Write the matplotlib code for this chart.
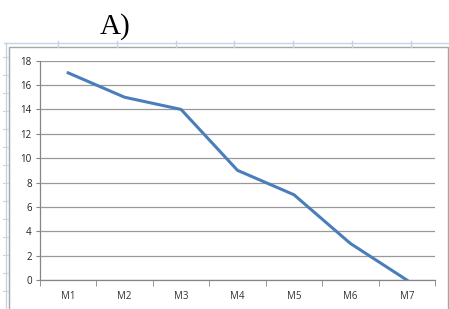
import matplotlib
matplotlib.use("Agg")
import matplotlib.pyplot as plt
from matplotlib.lines import Line2D
from matplotlib.patches import Rectangle

categories = ["M1", "M2", "M3", "M4", "M5", "M6", "M7"]
values = [17, 15, 14, 9, 7, 3, 0]
yticks = [0, 2, 4, 6, 8, 10, 12, 14, 16, 18]

W, H = 449, 309
fig = plt.figure(figsize=(W / 100, H / 100), dpi=100)
fig.patch.set_facecolor("white")

def fx(px):
    return px / W

def fy(py):
    return 1 - py / H

# Spreadsheet-like light guide lines
light = "#c5d3e8"
fig.add_artist(Line2D([fx(4), fx(449)], [fy(43), fy(43)], color=light, lw=1.0))
for x in [58, 117, 176, 234, 293, 352, 411]:
    fig.add_artist(Line2D([fx(x), fx(x)], [fy(41), fy(47)], color=light, lw=1.0))
fig.add_artist(Line2D([fx(6), fx(6)], [fy(43), fy(309)], color=light, lw=1.0))
for y in range(57, 309, 18):
    fig.add_artist(Line2D([fx(3), fx(8)], [fy(y), fy(y)], color=light, lw=0.8))

# Chart area border
fig.add_artist(Rectangle((fx(9), fy(312)), fx(448) - fx(9), fy(47) - fy(312),
                         fill=False, edgecolor="#a6a6a6", lw=1.0))

# Title
fig.text(fx(115), fy(27), "A)", family="Liberation Serif", fontsize=21,
         ha="center", va="center", color="black")

ax = fig.add_axes([fx(40), fy(280), fx(435) - fx(40), fy(60.7) - fy(280)])
x = list(range(len(categories)))
ax.plot(x, values, color="#4a7ebb", lw=2.2, solid_joinstyle="round")
ax.set_xlim(-0.5, len(categories) - 0.5)
ax.set_ylim(0, 18)
ax.set_yticks(yticks)
ax.set_yticklabels([str(v) for v in yticks], family="Open Sans", fontsize=7,
                   color="#222222")
ax.set_xticks(x)
ax.set_xticklabels(categories, family="Open Sans", fontsize=7, color="#333333")
ax.set_xticks([i + 0.5 for i in range(-1, len(categories))], minor=True)
ax.tick_params(axis="x", which="major", length=0, pad=8)
ax.tick_params(axis="x", which="minor", length=4, color="#868686", direction="out")
ax.tick_params(axis="y", length=3, color="#868686", direction="out", pad=3)
ax.grid(axis="y", color="#999999", lw=0.9)
ax.set_axisbelow(True)
for s in ["top", "right"]:
    ax.spines[s].set_visible(False)
for s in ["left", "bottom"]:
    ax.spines[s].set_color("#868686")
    ax.spines[s].set_linewidth(0.9)

fig.savefig("out.png", dpi=100)
